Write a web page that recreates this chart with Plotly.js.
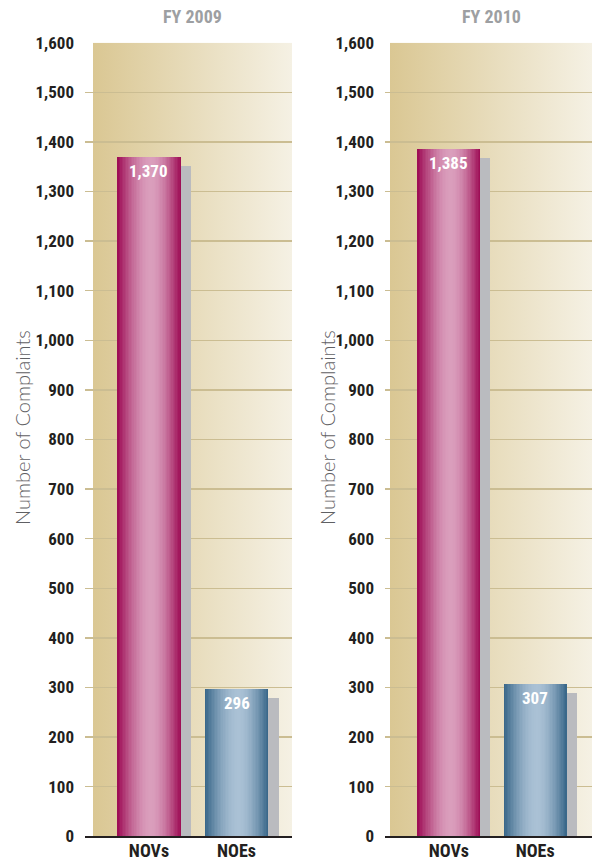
<!DOCTYPE html>
<html><head><meta charset="utf-8">
<script src="https://cdn.plot.ly/plotly-3.0.1.min.js"></script>
<style>html,body{margin:0;padding:0;background:#fff}</style>
</head><body><div id="chart" style="width:592px;height:862px"></div>
<script>
// ---- data ----
const categories = ['NOVs', 'NOEs'];
const panelTitles = ['FY 2009', 'FY 2010'];
const fy2009 = [1370, 296];
const fy2010 = [1385, 307];
const labels2009 = ['1,370', '296'];
const labels2010 = ['1,385', '307'];
const yAxisTitle = 'Number of Complaints';

// ---- style ----
const W = 592, H = 862;
const condensed = "'Roboto Condensed','Liberation Sans Narrow',Roboto,sans-serif";
const lightFont = "Lato, 'Open Sans', sans-serif";
const yTop = 42.7, yBot = 836.3;
const yDom = [(H - yBot) / H, (H - yTop) / H];
const panels = [
  {vals: fy2009, labels: labels2009, title: panelTitles[0], dom: [85, 292], bgLeft: 93, range: [-0.731, 1.634], xa: 'x', ya: 'y', titleX: 192, yTitleX: 22},
  {vals: fy2010, labels: labels2010, title: panelTitles[1], dom: [385, 592], bgLeft: 390, range: [-0.740, 1.659], xa: 'x2', ya: 'y2', titleX: 491, yTitleX: 327}
];
const barW = 0.73;
const shadowShift = 0.115, shadowDrop = 18;
const darkC = [[158, 14, 86], [58, 104, 138]];
const lightC = [[218, 158, 188], [170, 193, 213]];
const centerFrac = 0.53;
const N = 22;

function mix(a, b, f) {
  return 'rgb(' + a.map((v, i) => Math.round(v + (b[i] - v) * f)).join(',') + ')';
}

const traces = [];
const annotations = [];
const images = [];
const bgSvg = "<svg xmlns='http://www.w3.org/2000/svg' width='100' height='100' viewBox='0 0 100 100' preserveAspectRatio='none'><defs><linearGradient id='g' x1='0' x2='1' y1='0' y2='0'><stop offset='0' stop-color='#dac793'/><stop offset='1' stop-color='#f5f1e4'/></linearGradient></defs><rect width='100' height='100' fill='url(#g)'/></svg>";
const bgSrc = 'data:image/svg+xml;charset=utf-8,' + encodeURIComponent(bgSvg);

panels.forEach(p => {
  const xs = categories.map((c, i) => i);
  // shadow
  traces.push({
    type: 'bar', x: xs, y: p.vals, base: -shadowDrop, width: barW,
    offset: -barW / 2 + shadowShift, xaxis: p.xa, yaxis: p.ya,
    marker: {color: '#babbbf', line: {width: 0}}, hoverinfo: 'skip', showlegend: false
  });
  // cylinder gradient layers
  for (let i = 0; i < N; i++) {
    const t = i / N;
    const a = centerFrac * t, b = 1 - (1 - centerFrac) * t;
    const f = Math.sin(t * Math.PI / 2);
    traces.push({
      type: 'bar', x: xs, y: p.vals, width: barW * (b - a),
      offset: -barW / 2 + barW * a, xaxis: p.xa, yaxis: p.ya,
      marker: {color: xs.map(k => mix(darkC[k], lightC[k], f)), line: {width: 0}},
      hoverinfo: i === 0 ? 'x+y' : 'skip', showlegend: false
    });
  }
  p.vals.forEach((v, k) => {
    annotations.push({
      xref: p.xa, yref: p.ya, x: k, y: v, yshift: -14, showarrow: false,
      text: '<b>' + p.labels[k] + '</b>', font: {family: condensed, size: 17, color: '#ffffff'},
      xanchor: 'center', yanchor: 'middle'
    });
  });
  annotations.push({
    xref: 'paper', yref: 'paper', x: p.titleX / W, y: 1 - 16.5 / H, showarrow: false,
    text: '<b>' + p.title + '</b>', font: {family: condensed, size: 18, color: '#9d9fa2'},
    xanchor: 'center', yanchor: 'middle'
  });
  annotations.push({
    xref: 'paper', yref: 'paper', x: p.yTitleX / W, y: 1 - 428 / H, showarrow: false,
    text: yAxisTitle, textangle: -90, font: {family: lightFont, size: 20, color: '#5f6063', weight: 300},
    xanchor: 'center', yanchor: 'middle'
  });
  images.push({
    source: bgSrc, xref: 'paper', yref: 'paper', x: p.bgLeft / W, y: yDom[1],
    sizex: (p.dom[1] - p.bgLeft) / W, sizey: yDom[1] - yDom[0],
    xanchor: 'left', yanchor: 'top', sizing: 'stretch', layer: 'below'
  });
});

function xAxis(p) {
  return {
    domain: [p.dom[0] / W, p.dom[1] / W], range: p.range, fixedrange: true,
    tickvals: categories.map((c, i) => i), ticktext: categories.map(c => '<b>' + c + '</b>'),
    tickfont: {family: condensed, size: 18, color: '#231f20'}, ticks: '', ticklabelstandoff: -2,
    showgrid: false, zeroline: false, showline: true, linecolor: '#231f20', linewidth: 1.5,
    anchor: p.ya
  };
}
function yAxis(p) {
  return {
    domain: yDom, range: [0, 1600], dtick: 100, tick0: 0, tickformat: ',d', fixedrange: true,
    showgrid: true, gridcolor: '#cbbd92', gridwidth: 1.5, zeroline: false, showline: false,
    ticks: '', ticklabelstandoff: 10,
    tickfont: {family: condensed, size: 17, color: '#231f20', weight: 'bold'},
    anchor: p.xa
  };
}

const layout = {
  width: W, height: H, margin: {l: 0, r: 0, t: 0, b: 0},
  paper_bgcolor: '#ffffff', plot_bgcolor: 'rgba(0,0,0,0)',
  barmode: 'overlay', bargap: 0, showlegend: false,
  xaxis: xAxis(panels[0]), yaxis: yAxis(panels[0]),
  xaxis2: xAxis(panels[1]), yaxis2: yAxis(panels[1]),
  annotations: annotations, images: images
};
Plotly.newPlot('chart', traces, layout, {displayModeBar: false, staticPlot: true});
</script></body></html>
